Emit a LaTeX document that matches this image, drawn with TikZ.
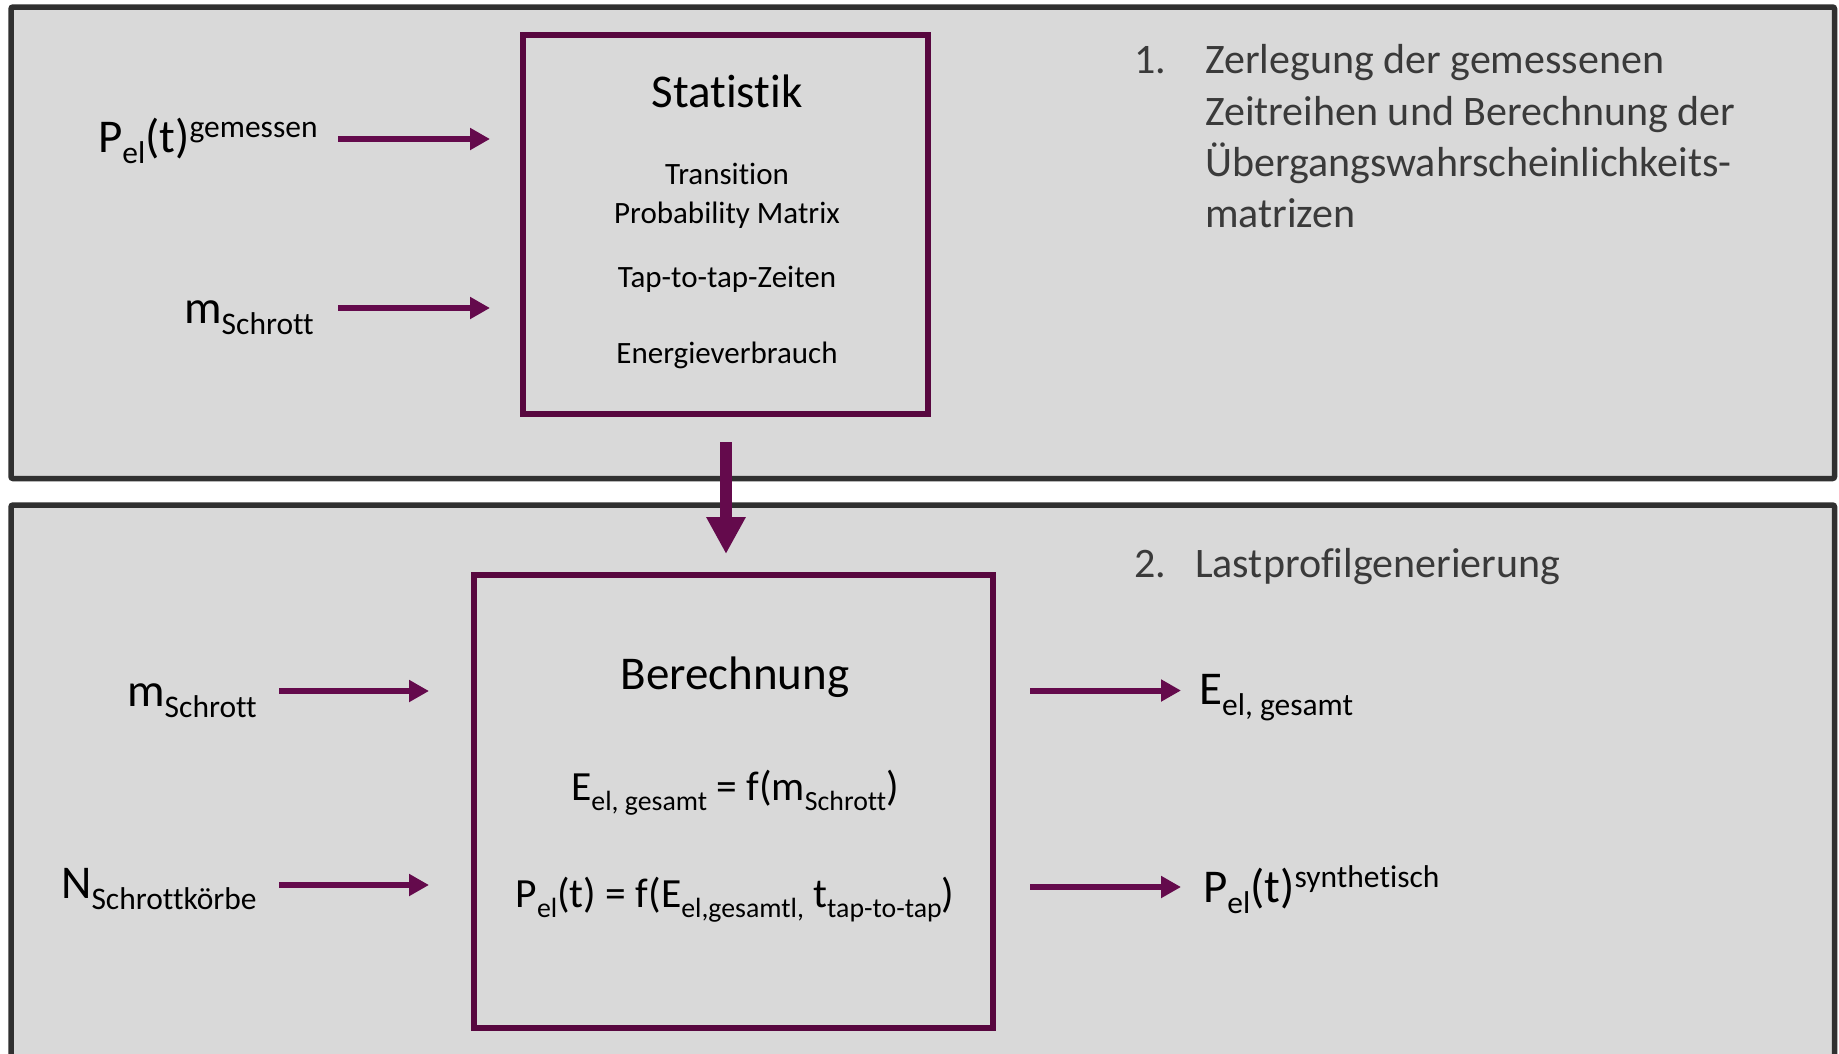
\documentclass[tikz,border=0pt]{standalone}
\usepackage{fontspec}
\setmainfont{Carlito}[Ligatures={NoCommon,NoContextual,NoRequired}]
\usetikzlibrary{arrows.meta}
\definecolor{panelfill}{HTML}{D9D9D9}
\definecolor{panelline}{HTML}{303030}
\definecolor{boxc}{HTML}{58073F}
\definecolor{arrowc}{HTML}{640A4C}
\definecolor{numtext}{HTML}{3A3A3A}
\makeatletter
\newcommand\dn[1]{\raisebox{-0.25em}{\fontsize{\fpeval{0.67*\f@size}}{10}\selectfont #1}}
\newcommand\up[1]{\raisebox{0.3em}{\fontsize{\fpeval{0.67*\f@size}}{10}\selectfont #1}}
\makeatother
\tikzset{
  panel/.style={draw=panelline, fill=panelfill, line width=5.5pt, rounded corners=2pt},
  pbox/.style={draw=boxc, line width=6pt, inner sep=0pt, rectangle},
  arr/.style={draw=arrowc, line width=6pt, -{Triangle[length=20pt,width=21pt]}},
  bigarr/.style={draw=arrowc, line width=12pt, -{Triangle[length=37pt,width=37pt]}},
  lab/.style={inner sep=0pt, font=\fontsize{47}{56}\selectfont},
  small/.style={inner sep=0pt, font=\fontsize{31}{37}\selectfont},
  form/.style={inner sep=0pt, font=\fontsize{41.5}{50}\selectfont},
  num/.style={inner sep=0pt, text=numtext, font=\fontsize{42}{51}\selectfont, anchor=base west}
}
\begin{document}
\begin{tikzpicture}[x=1pt, y=-1pt]
\useasboundingbox (0,0) rectangle (1839,1053);
\clip (0,0) rectangle (1839,1053);
\fill[white] (0,0) rectangle (1839,1053);
% panels
\draw[panel] (11,7) rectangle (1834.5,478.5);
\draw[panel] (11,505) rectangle (1834.5,1100);
% boxes
\node[pbox, minimum width=405.5pt, minimum height=378.5pt] (stat) at (725.25,224.25) {};
\node[pbox, minimum width=519pt, minimum height=453pt] (ber) at (733.5,801) {};
% Statistik texts
\node[lab, anchor=base] (stitle) at (727,107) {Statistik};
\node[small, anchor=base] (s1) at (727,184) {Transition};
\node[small, anchor=base] (s2) at (727,223) {Probability Matrix};
\node[small, anchor=base] (s3) at (727,287) {Tap-to-tap-Zeiten};
\node[small, anchor=base] (s4) at (727,363) {Energieverbrauch};
% inputs top
\node[lab, anchor=base west] (pin) at (98,152) {P\dn{el}(t)\up{gemessen}};
\node[lab, anchor=base west] (min1) at (184,323) {m\dn{Schrott}};
\coordinate (a1s) at (338,139); \coordinate (a1e) at (490,139);
\coordinate (a2s) at (338,308); \coordinate (a2e) at (490,308);
\draw[arr] (a1s) -- (a1e);
\draw[arr] (a2s) -- (a2e);
% step text 1
\node[num] (n1) at (1134,73) {1.};
\node[num] (t1a) at (1205,73) {Zerlegung der gemessenen};
\node[num] (t1b) at (1205,125) {Zeitreihen und Berechnung der};
\node[num] (t1c) at (1205,176) {Übergangswahrscheinlichkeits-};
\node[num] (t1d) at (1205,227) {matrizen};
% down arrow
\coordinate (ds) at (726,442); \coordinate (de) at (726,554);
\draw[bigarr] (ds) -- (de);
% step text 2
\node[num] (n2) at (1134,577) {2.};
\node[num] (t2) at (1195,577) {Lastprofilgenerierung};
% Berechnung texts
\node[lab, anchor=base] (btitle) at (735,689) {Berechnung};
\node[form, anchor=base] (f1) at (735,800) {E\dn{el, gesamt} = f(m\dn{Schrott})};
\node[form, anchor=base] (f2) at (735,907) {P\dn{el}(t) = f(E\dn{el,gesamtl,} t\dn{tap-to-tap})};
% inputs bottom
\node[lab, anchor=base west] (min2) at (127,706) {m\dn{Schrott}};
\node[lab, anchor=base west] (nin) at (61,898) {N\dn{Schrottkörbe}};
\coordinate (b1s) at (279,691); \coordinate (b1e) at (429,691);
\coordinate (b2s) at (279,885); \coordinate (b2e) at (429,885);
\draw[arr] (b1s) -- (b1e);
\draw[arr] (b2s) -- (b2e);
% outputs
\coordinate (c1s) at (1030,690.5); \coordinate (c1e) at (1181,690.5);
\coordinate (c2s) at (1030,887); \coordinate (c2e) at (1181,887);
\draw[arr] (c1s) -- (c1e);
\draw[arr] (c2s) -- (c2e);
\node[lab, anchor=base west] (eout) at (1199,704) {E\dn{el, gesamt}};
\node[lab, anchor=base west] (pout) at (1203,902) {P\dn{el}(t)\up{synthetisch}};
\end{tikzpicture}
\end{document}
